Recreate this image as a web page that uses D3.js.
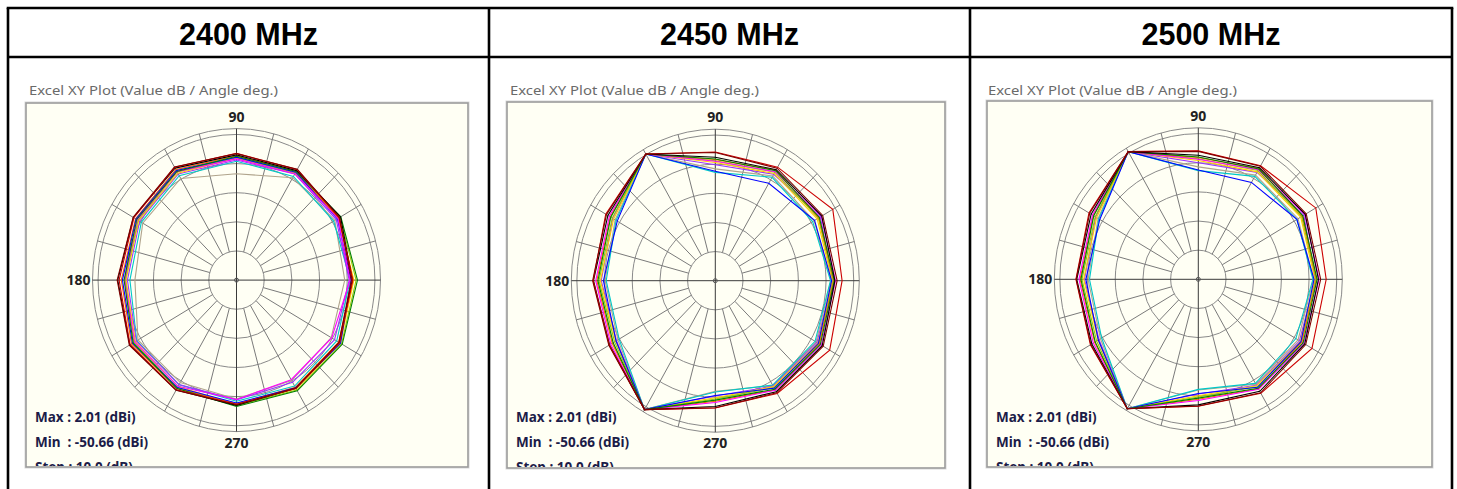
<!DOCTYPE html>
<html><head><meta charset="utf-8">
<script src="https://cdn.jsdelivr.net/npm/d3@7"></script>
<style>html,body{margin:0;padding:0;background:#fff;} svg{display:block}</style>
</head><body>
<svg id="c" width="1457" height="489"></svg>
<script>
// ---------------- data ----------------
const frequencies = ["2400 MHz", "2450 MHz", "2500 MHz"];
const plotTitle = "Excel XY Plot (Value dB / Angle deg.)";
const angles = [0, 30, 60, 90, 120, 150, 180, 210, 240, 270, 300, 330];
const ringLevels = [-40, -30, -20, -10, 0];
const scaleMin = -50, scaleMax = 2.01;
const axisLabels = [{a: 90, t: "90"}, {a: 180, t: "180"}, {a: 270, t: "270"}];
const infoLines = ["Max : 2.01 (dBi)", "Min  : -50.66 (dBi)", "Step : 10.0 (dB)"];
const seriesColors = ["#b0a48c", "#00c8c8", "#9933ff", "#ffcc00", "#99cc00", "#ff6600",
                      "#0000ff", "#ff00ff", "#008000", "#000000", "#cc0000", "#800000"];

const series2400 = [
  [-10.9, -9.0, -9.4, -13.5, -9.7, -10.9, -13.3, -8.9, -9.4, -9.2, -10.2, -10.5],
  [-8.9, -9.5, -8.9, -9.2, -8.6, -10.3, -11.5, -8.4, -8.5, -8.4, -8.0, -8.2],
  [-9.3, -8.4, -7.9, -8.8, -7.9, -9.6, -10.6, -8.2, -8.6, -8.9, -9.5, -9.1],
  [-7.6, -7.5, -7.6, -8.2, -7.6, -9.2, -10.1, -7.8, -7.8, -7.3, -6.9, -6.7],
  [-6.8, -6.8, -7.4, -8.0, -7.1, -8.9, -9.8, -7.2, -7.3, -6.9, -6.4, -6.2],
  [-7.9, -7.4, -7.0, -7.3, -6.2, -7.9, -8.4, -6.2, -7.0, -7.6, -7.5, -7.4],
  [-8.6, -7.9, -7.2, -7.8, -6.6, -8.1, -8.8, -6.6, -7.4, -7.8, -7.3, -6.6],
  [-9.0, -7.7, -7.8, -8.4, -7.0, -8.6, -9.6, -7.5, -7.9, -9.0, -10.5, -10.3],
  [-6.3, -6.5, -6.9, -7.5, -6.9, -8.4, -9.4, -6.9, -7.0, -6.6, -6.1, -5.9],
  [-8.2, -6.6, -6.6, -7.0, -5.6, -7.0, -7.1, -5.5, -6.4, -7.0, -7.1, -7.1],
  [-8.0, -7.2, -6.2, -6.5, -5.3, -7.2, -7.6, -5.6, -6.5, -7.4, -7.0, -7.0],
  [-8.5, -7.0, -6.1, -6.6, -5.2, -6.9, -6.9, -5.3, -6.3, -7.2, -7.2, -7.3]
];
const series2450 = [
  [-8.2, -8.8, -8.5, -11.6, 0.2, -8.2, -10.2, -9.4, 1.1, -12.0, -8.4, -8.0],
  [-8.4, -9.4, -9.0, -12.8, 0.2, -8.6, -10.6, -9.9, 1.1, -11.8, -8.6, -8.4],
  [-7.6, -6.2, -7.8, -10.2, 0.2, -7.2, -8.8, -8.8, 1.1, -10.4, -8.2, -7.6],
  [-7.8, -7.5, -7.5, -9.4, 0.2, -7.6, -8.5, -8.5, 1.1, -9.8, -8.0, -7.2],
  [-7.4, -7.0, -7.0, -8.8, 0.2, -7.0, -8.0, -8.0, 1.1, -9.4, -7.6, -6.8],
  [-7.2, -6.8, -6.2, -8.4, 0.2, -6.2, -7.2, -7.0, 1.1, -8.6, -6.8, -6.6],
  [-8.0, -8.6, -11.4, -12.4, 0.2, -9.1, -9.6, -8.6, 1.1, -10.6, -7.4, -7.0],
  [-6.6, -5.8, -6.8, -9.0, 0.2, -5.8, -6.8, -6.4, 1.1, -8.2, -6.6, -5.8],
  [-7.0, -6.6, -6.4, -8.2, 0.2, -6.4, -7.6, -7.4, 1.1, -9.0, -7.0, -6.2],
  [-6.8, -5.6, -6.0, -7.6, 0.2, -5.2, -6.0, -5.9, 1.1, -6.8, -6.0, -5.4],
  [-4.2, -1.0, -5.0, -5.8, 0.2, -4.3, -5.9, -5.8, 1.1, -6.3, -5.3, -2.3],
  [-6.0, -5.2, -5.4, -6.0, 0.2, -4.6, -5.7, -5.6, 1.1, -6.4, -5.6, -5.0]
];
const series2500 = [
  [-8.4, -8.4, -8.7, -11.4, 0.6, -8.2, -10.2, -9.2, 1.3, -12.0, -8.4, -8.4],
  [-8.6, -8.9, -9.2, -12.7, 0.6, -8.5, -10.7, -9.7, 1.3, -12.2, -8.75, -9.3],
  [-7.7, -6.0, -7.6, -10.0, 0.6, -7.2, -8.9, -8.6, 1.3, -10.6, -8.0, -7.8],
  [-7.9, -7.3, -7.4, -9.2, 0.6, -7.6, -8.6, -8.2, 1.3, -10.0, -7.8, -7.4],
  [-7.5, -6.9, -6.9, -8.6, 0.6, -7.0, -8.0, -7.6, 1.3, -9.6, -7.4, -6.9],
  [-7.3, -6.6, -6.1, -8.2, 0.6, -6.2, -7.3, -6.8, 1.3, -8.8, -6.6, -6.8],
  [-8.2, -8.9, -11.6, -12.5, 0.6, -8.9, -9.4, -8.3, 1.3, -10.8, -7.2, -7.2],
  [-6.4, -5.6, -6.6, -8.8, 0.6, -5.9, -6.9, -6.2, 1.3, -8.4, -6.4, -6.0],
  [-7.1, -6.4, -6.3, -8.0, 0.6, -6.4, -7.6, -7.0, 1.3, -9.2, -6.8, -6.3],
  [-6.6, -5.4, -5.8, -7.4, 0.6, -5.3, -6.1, -5.6, 1.3, -6.9, -5.6, -5.6],
  [-3.8, -1.0, -5.0, -5.9, 0.6, -4.4, -5.8, -5.0, 1.3, -6.4, -4.8, -2.6],
  [-5.8, -5.0, -5.2, -6.1, 0.6, -4.7, -5.9, -5.2, 1.3, -6.5, -5.0, -5.2]
];
const panelSeries = [series2400, series2450, series2500];

// ---------------- layout ----------------
const svg = d3.select("#c");
const colEdges = [8, 489, 970, 1452];
const headerBottom = 57, topY = 8;
const panels = [
  {box: [26, 103, 442, 364], cx: 236.5, cy: 280.1, tx: 29},
  {box: [507, 102, 438, 366], cx: 715.3, cy: 280.7, tx: 510},
  {box: [987, 101, 445, 366], cx: 1198.3, cy: 279.3, tx: 988}
];
const RX = 144, RY = 151.5;
const r = d3.scaleLinear().domain([scaleMin, scaleMax]).range([0, 1]);
const rad = d => d * Math.PI / 180;

// table
const tbl = svg.append("g").attr("stroke", "#000").attr("stroke-width", 2.6);
tbl.append("line").attr("x1", colEdges[0] - 1.3).attr("x2", colEdges[3] + 1.3).attr("y1", topY).attr("y2", topY);
tbl.append("line").attr("x1", colEdges[0]).attr("x2", colEdges[3]).attr("y1", headerBottom).attr("y2", headerBottom);
colEdges.forEach(x => tbl.append("line").attr("x1", x).attr("x2", x).attr("y1", topY).attr("y2", 489));

frequencies.forEach((f, i) => {
  svg.append("text").attr("x", (colEdges[i] + colEdges[i + 1]) / 2).attr("y", 45)
    .attr("text-anchor", "middle").attr("font-family", "Liberation Sans, Arial, sans-serif")
    .attr("font-weight", "bold").attr("font-size", 30.5).attr("fill", "#000").text(f);
});

panels.forEach((p, pi) => {
  const [bx, by, bw, bh] = p.box;
  const g = svg.append("g");
  g.append("text").attr("x", p.tx).attr("y", 95).attr("font-family", "Noto Sans, DejaVu Sans, sans-serif")
    .attr("font-size", 12.5).attr("fill", "#6a6a6a").attr("textLength", 249).attr("lengthAdjust", "spacingAndGlyphs")
    .text(plotTitle);
  // box
  g.append("rect").attr("x", bx - 1).attr("y", by - 1).attr("width", bw + 2).attr("height", bh + 2)
    .attr("fill", "none").attr("stroke", "#d8d8d8").attr("stroke-width", 1);
  g.append("rect").attr("x", bx).attr("y", by).attr("width", bw).attr("height", bh)
    .attr("fill", "#fffff4").attr("stroke", "#9c9c9c").attr("stroke-width", 1.6);
  const cid = "clip" + pi;
  g.append("clipPath").attr("id", cid).append("rect").attr("x", bx + 1).attr("y", by + 1).attr("width", bw - 2).attr("height", bh - 2);
  const inner = g.append("g").attr("clip-path", `url(#${cid})`);

  const ex = (v, a) => p.cx + r(v) * RX * Math.cos(rad(a));
  const ey = (v, a) => p.cy - r(v) * RY * Math.sin(rad(a));

  // grid rings
  const ringNorm = ringLevels.map(v => r(v)).concat([1]);
  ringNorm.forEach(n => {
    inner.append("ellipse").attr("cx", p.cx).attr("cy", p.cy).attr("rx", n * RX).attr("ry", n * RY)
      .attr("fill", "none").attr("stroke", "#8a8a8a").attr("stroke-width", 1);
  });
  // spokes
  d3.range(0, 360, 15).filter(a => a % 90 !== 0).forEach(a => {
    inner.append("line")
      .attr("x1", p.cx + ringNorm[0] * RX * Math.cos(rad(a))).attr("y1", p.cy - ringNorm[0] * RY * Math.sin(rad(a)))
      .attr("x2", p.cx + RX * Math.cos(rad(a))).attr("y2", p.cy - RY * Math.sin(rad(a)))
      .attr("stroke", "#7a7a7a").attr("stroke-width", 1);
  });
  // axes
  inner.append("line").attr("x1", p.cx - RX).attr("x2", p.cx + RX).attr("y1", p.cy).attr("y2", p.cy)
    .attr("stroke", "#3a3a3a").attr("stroke-width", 1);
  inner.append("line").attr("x1", p.cx).attr("x2", p.cx).attr("y1", p.cy - RY).attr("y2", p.cy + RY)
    .attr("stroke", "#3a3a3a").attr("stroke-width", 1);
  inner.append("circle").attr("cx", p.cx).attr("cy", p.cy).attr("r", 2).attr("fill", "none").attr("stroke", "#555");

  // series
  const line = d3.line().x(d => d[0]).y(d => d[1]).curve(d3.curveLinearClosed);
  panelSeries[pi].forEach((vals, si) => {
    const pts = vals.map((v, k) => [ex(v, angles[k]), ey(v, angles[k])]);
    inner.append("path").attr("d", line(pts)).attr("fill", "none")
      .attr("stroke", seriesColors[si]).attr("stroke-width", 1.1).attr("stroke-linejoin", "miter");
  });

  // axis labels
  const lf = "Noto Sans, DejaVu Sans, sans-serif";
  inner.append("text").attr("x", p.cx).attr("y", p.cy - RY - 7).attr("text-anchor", "middle")
    .attr("font-family", lf).attr("font-weight", "bold").attr("font-size", 14).attr("fill", "#222").text(axisLabels[0].t);
  inner.append("text").attr("x", p.cx - RX - 2).attr("y", p.cy + 5).attr("text-anchor", "end")
    .attr("font-family", lf).attr("font-weight", "bold").attr("font-size", 14).attr("fill", "#222").text(axisLabels[1].t);
  inner.append("text").attr("x", p.cx).attr("y", p.cy + RY + 16).attr("text-anchor", "middle")
    .attr("font-family", lf).attr("font-weight", "bold").attr("font-size", 14).attr("fill", "#222").text(axisLabels[2].t);

  // info text
  infoLines.forEach((t, k) => {
    inner.append("text").attr("x", bx + 9).attr("y", 422 + k * 25).attr("font-family", lf)
      .attr("font-weight", "bold").attr("font-size", 13.5).attr("fill", "#1c1c48")
      .attr("xml:space", "preserve").text(t);
  });
});
</script>
</body></html>
